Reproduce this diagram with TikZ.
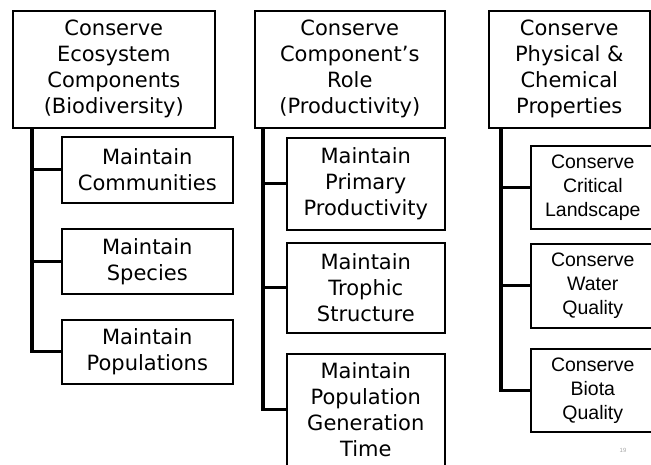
\documentclass[tikz,border=0pt]{standalone}
\usepackage{fontspec}
\setmainfont{DejaVu Sans}
\newfontfamily\arialfont{Liberation Sans}
\begin{document}
\begin{tikzpicture}[x=1pt,y=-1pt,
  box/.style={draw=black, line width=1.6pt, anchor=north west, inner sep=0pt,
    align=center, font=\fontsize{21}{26}\selectfont},
  smallbox/.style={box, font=\arialfont\fontsize{19.5}{24}\selectfont},
  trunk/.style={line width=3.2pt, line cap=rect}]
\useasboundingbox (0,0) rectangle (651,464);
\clip (0,0) rectangle (651,464);
% column 1
\node[box, minimum width=202pt, minimum height=117pt] (top1) at (12,10)
  {Conserve\\Ecosystem\\Components\\(Biodiversity)};
\node[box, minimum width=171pt, minimum height=66pt] (c1a) at (61,136) {Maintain\\Communities};
\node[box, minimum width=171pt, minimum height=65pt] (c1b) at (61,228) {Maintain\\Species};
\node[box, minimum width=171pt, minimum height=64pt] (c1c) at (61,319) {Maintain\\Populations};
\coordinate (t1) at ([xshift=20pt]top1.south west);
\draw[trunk] (t1) |- (c1c.west);
\draw[trunk] (c1a.west) -- (c1a.west -| t1);
\draw[trunk] (c1b.west) -- (c1b.west -| t1);
% column 2
\node[box, minimum width=190pt, minimum height=117pt] (top2) at (254,10)
  {Conserve\\Component's\\Role\\(Productivity)};
\node[box, minimum width=158pt, minimum height=92pt] (c2a) at (286,137) {Maintain\\Primary\\Productivity};
\node[box, minimum width=158pt, minimum height=90pt] (c2b) at (286,242) {Maintain\\Trophic\\Structure};
\node[box, minimum width=158pt, minimum height=112pt] (c2c) at (286,353) {Maintain\\Population\\Generation\\Time};
\coordinate (t2) at ([xshift=9pt]top2.south west);
\draw[trunk] (t2) |- (c2c.west);
\draw[trunk] (c2a.west) -- (c2a.west -| t2);
\draw[trunk] (c2b.west) -- (c2b.west -| t2);
% column 3
\node[box, minimum width=161pt, minimum height=117pt] (top3) at (488,10)
  {Conserve\\Physical \&\\Chemical\\Properties};
\node[smallbox, minimum width=124pt, minimum height=83pt] (c3a) at (530,145) {Conserve\\Critical\\Landscape};
\node[smallbox, minimum width=124pt, minimum height=84pt] (c3b) at (530,243) {Conserve\\Water\\Quality};
\node[smallbox, minimum width=124pt, minimum height=83pt] (c3c) at (530,348) {Conserve\\Biota\\Quality};
\coordinate (t3) at ([xshift=13pt]top3.south west);
\draw[trunk] (t3) |- (c3c.west);
\draw[trunk] (c3a.west) -- (c3a.west -| t3);
\draw[trunk] (c3b.west) -- (c3b.west -| t3);
% page number
\node[text=gray!70, font=\arialfont\fontsize{6}{7}\selectfont, inner sep=0pt] (pg) at (623,450) {19};
\end{tikzpicture}
\end{document}
